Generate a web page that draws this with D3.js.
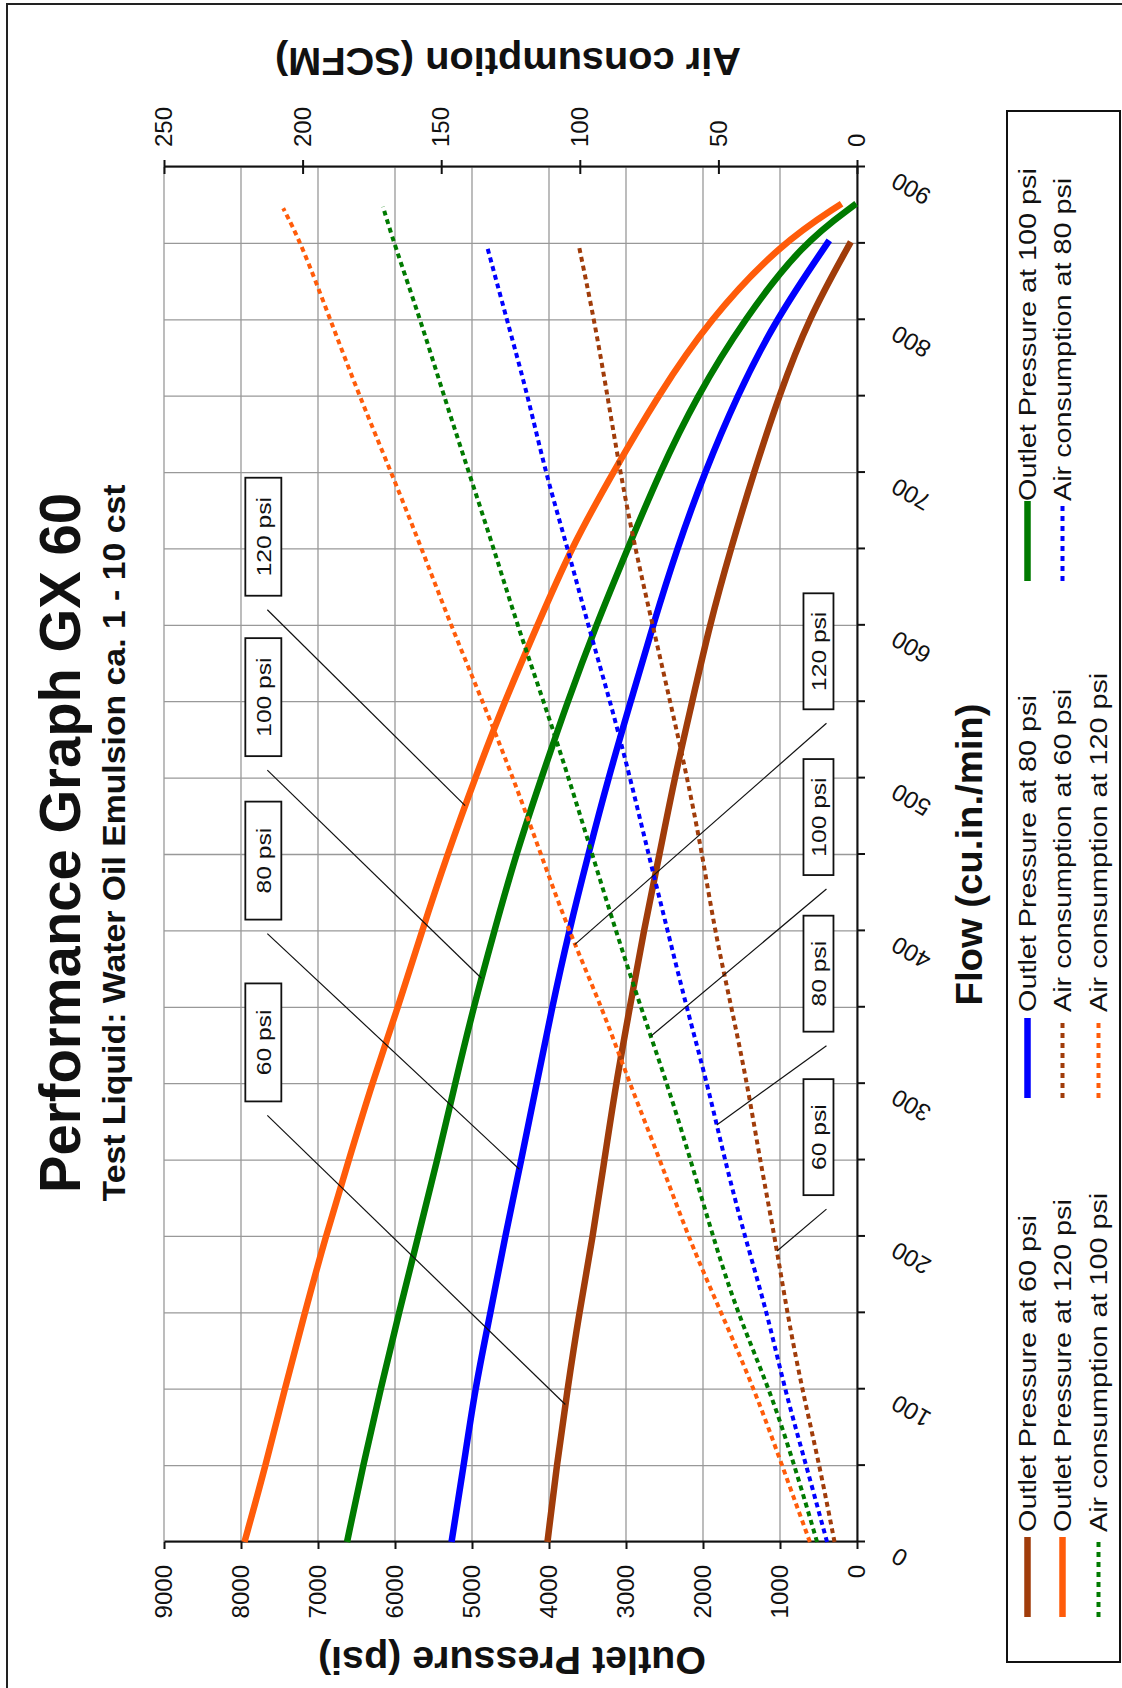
<!DOCTYPE html>
<html lang="en">
<head>
<meta charset="UTF-8">
<title>Performance Graph GX 60</title>
<script src="https://d3js.org/d3.v7.min.js"></script>
<style>
  body { margin: 0; background: #fff; }
  svg { display: block; font-family: "Liberation Sans", Arial, sans-serif; }
</style>
</head>
<body>
<script>
// flow points (cu.in./min)
const flow60  = [0, 50, 100, 150, 200, 250, 300, 350, 400, 450, 500, 550, 600, 650, 700, 750, 800, 851];
const flow80  = [0, 50, 100, 150, 200, 250, 300, 350, 400, 450, 500, 550, 600, 650, 700, 750, 800, 852];
const flow100 = [0, 50, 100, 150, 200, 250, 300, 350, 400, 450, 500, 550, 600, 650, 700, 750, 800, 850, 876];
const flow120 = [0, 50, 100, 150, 200, 250, 300, 350, 400, 450, 500, 550, 600, 650, 700, 750, 800, 850, 876];

// outlet pressure (psi)
const press60  = [4020, 3900, 3760, 3608, 3430, 3281, 3130, 2950, 2770, 2565, 2370, 2140, 1915, 1640, 1340, 1015, 640, 80];
const press80  = [5266, 5108, 4962, 4760, 4570, 4360, 4160, 3960, 3740, 3490, 3230, 2940, 2650, 2340, 1980, 1560, 1060, 360];
const press100 = [6623, 6415, 6188, 5948, 5700, 5450, 5220, 4980, 4710, 4430, 4100, 3760, 3390, 2980, 2565, 2080, 1470, 710, 10];
const press120 = [7955, 7680, 7433, 7172, 6900, 6600, 6300, 5960, 5650, 5320, 4960, 4580, 4150, 3720, 3170, 2590, 1920, 990, 200];

// air consumption (SCFM)
const airFlow60  = [0, 50, 100, 150, 200, 250, 300, 350, 400, 450, 500, 550, 600, 650, 700, 750, 800, 849];
const airFlow80  = [0, 50, 100, 150, 200, 250, 300, 350, 400, 450, 500, 550, 600, 650, 700, 750, 800, 849];
const airFlow100 = [0, 50, 100, 150, 200, 250, 300, 350, 400, 450, 500, 550, 600, 650, 700, 750, 800, 850, 874];
const airFlow120 = [0, 50, 100, 150, 200, 250, 300, 350, 400, 450, 500, 550, 600, 650, 700, 750, 800, 850, 873];
const air60  = [8.1, 13.5, 19.8, 25.2, 29.7, 35, 39.6, 45.3, 51.3, 55.8, 61.2, 67.4, 73.7, 80, 85.4, 90, 94.8, 100.4];
const air80  = [10.8, 18.3, 26.1, 32.4, 40.5, 47.7, 54, 61.5, 68.3, 75.2, 81.8, 89, 97, 104.3, 112.4, 118.7, 126.3, 133.6];
const air100 = [14.4, 22.5, 31.5, 43.2, 52, 60, 68.5, 78, 87, 95.5, 104, 113, 122.5, 131, 140, 149, 157.5, 167, 171];
const air120 = [17, 27, 37, 49, 61, 71, 82, 92, 104, 114, 124, 135, 146.5, 157, 168, 179.5, 190, 200.5, 207];

// ticks
const flowTicks = d3.range(0, 901, 50);
const pressTicks = d3.range(0, 9001, 1000);
const airTicks = d3.range(0, 251, 50);

// callout labels: box position (flow, value) and the flow where the pointer hits the curve
const pressLabels = ["60 psi", "80 psi", "100 psi", "120 psi"];
const pressBoxFlow = [327, 446, 553, 658];
const pressTarget = [90, 244, 369, 482];
const airLabels = ["60 psi", "80 psi", "100 psi", "120 psi"];
const airBoxFlow = [265, 372, 474.5, 583];
const airTarget = [190.5, 273, 331, 391];

const series = [
  { name: "Outlet Pressure at 60 psi",  flow: flow60,  v: press60,  axis: "p", color: "#a03c0a", dotted: false },
  { name: "Outlet Pressure at 80 psi",  flow: flow80,  v: press80,  axis: "p", color: "#0000ff", dotted: false },
  { name: "Outlet Pressure at 100 psi", flow: flow100, v: press100, axis: "p", color: "#007a00", dotted: false },
  { name: "Outlet Pressure at 120 psi", flow: flow120, v: press120, axis: "p", color: "#ff5c0a", dotted: false },
  { name: "Air consumption at 60 psi",  flow: airFlow60,  v: air60,  axis: "a", color: "#a03c0a", dotted: true },
  { name: "Air consumption at 80 psi",  flow: airFlow80,  v: air80,  axis: "a", color: "#0000ff", dotted: true },
  { name: "Air consumption at 100 psi", flow: airFlow100, v: air100, axis: "a", color: "#007a00", dotted: true },
  { name: "Air consumption at 120 psi", flow: airFlow120, v: air120, axis: "a", color: "#ff5c0a", dotted: true }
];

const W = 1122, H = 1688;
const svg = d3.select("body").append("svg").attr("width", W).attr("height", H);

// outer frame (runs off the picture at right and bottom)
svg.append("rect").attr("x", 7).attr("y", 4).attr("width", 1300).attr("height", 1900)
  .attr("fill", "none").attr("stroke", "#222").attr("stroke-width", 2);

// the chart is drawn landscape and turned a quarter to the left
const g = svg.append("g").attr("transform", `translate(0,${H}) rotate(-90)`);

const x = d3.scaleLinear().domain([0, 900]).range([146, 1521]);
const yP = d3.scaleLinear().domain([0, 9000]).range([857, 164]);
const yA = d3.scaleLinear().domain([0, 250]).range([857, 164]);
const scaleOf = s => s.axis === "p" ? yP : yA;

// gridlines
g.append("g").selectAll("line").data(flowTicks).join("line")
  .attr("x1", d => x(d)).attr("x2", d => x(d))
  .attr("y1", yP(9000)).attr("y2", yP(0))
  .attr("stroke", "#999").attr("stroke-width", 1.3);
g.append("g").selectAll("line").data(pressTicks).join("line")
  .attr("x1", x(0)).attr("x2", x(900))
  .attr("y1", d => yP(d)).attr("y2", d => yP(d))
  .attr("stroke", "#999").attr("stroke-width", 1.3);

// axes
function styleAxis(sel) {
  sel.attr("font-family", "'Liberation Sans', Arial, sans-serif").attr("font-size", 24);
  sel.selectAll("path, line").attr("stroke", "#111").attr("stroke-width", 2);
  sel.selectAll("text").attr("fill", "#111");
}

const xAxis = g.append("g").attr("transform", `translate(0,${yP(0)})`)
  .call(d3.axisBottom(x).tickValues(flowTicks).tickSize(8).tickSizeOuter(0)
    .tickFormat(d => d % 100 === 0 ? d : ""))
  .call(styleAxis);
xAxis.selectAll("text")
  .attr("y", null).attr("dy", null)
  .attr("text-anchor", "end")
  .attr("transform", "translate(-5,41) rotate(-60)");

g.append("g").attr("transform", `translate(${x(0)},0)`)
  .call(d3.axisLeft(yP).tickValues(pressTicks).tickSize(7).tickPadding(16).tickSizeOuter(0)
    .tickFormat(d3.format("d")))
  .call(styleAxis);

const aAxis = g.append("g").attr("transform", `translate(${x(900)},0)`)
  .call(d3.axisRight(yA).tickValues(airTicks).tickSize(7).tickPadding(13).tickSizeOuter(0))
  .call(styleAxis);
aAxis.selectAll(".tick line").attr("x1", -7).attr("x2", 7);

// curves
const line = s => d3.line()
  .x(d => x(d[0])).y(d => scaleOf(s)(d[1]))
  .curve(d3.curveBasis)(d3.zip(s.flow, s.v));

g.append("g").selectAll("path").data(series).join("path")
  .attr("d", line)
  .attr("fill", "none")
  .attr("stroke", d => d.color)
  .attr("stroke-width", d => d.dotted ? 4 : 6.5)
  .attr("stroke-dasharray", d => d.dotted ? "5,4" : null);

// callouts
function valueAt(s, f) {
  return d3.scaleLinear().domain(s.flow).range(s.v)(f);
}

function callouts(labels, boxFlow, target, list, yScale, boxVal, w, h, off) {
  const layer = g.append("g");
  labels.forEach((lab, i) => {
    const s = list[i];
    const cx = x(boxFlow[i]), cy = yScale(boxVal);
    layer.append("line")
      .attr("x1", cx - w / 2 - 14).attr("y1", cy + off)
      .attr("x2", x(target[i])).attr("y2", yScale(valueAt(s, target[i])))
      .attr("stroke", "#111").attr("stroke-width", 1.2);
    layer.append("rect")
      .attr("x", cx - w / 2).attr("y", cy - h / 2).attr("width", w).attr("height", h)
      .attr("fill", "#fff").attr("stroke", "#111").attr("stroke-width", 1.8);
    layer.append("text")
      .attr("transform", `translate(${cx},${cy + 7.5}) scale(1.17,1)`)
      .attr("text-anchor", "middle").attr("font-size", 21).attr("fill", "#111")
      .text(lab);
  });
}
callouts(pressLabels, pressBoxFlow, pressTarget, series.slice(0, 4), yP, 7710, 118, 36, 4);
callouts(airLabels, airBoxFlow, airTarget, series.slice(4), yA, 13.9, 116, 30, 8);

// titles
function title(tx, ty, rot, size, len, txt) {
  g.append("text")
    .attr("transform", `translate(${tx},${ty}) rotate(${rot})`)
    .attr("text-anchor", "middle").attr("font-weight", "bold")
    .attr("font-size", size).attr("fill", "#111")
    .attr("textLength", len).attr("lengthAdjust", "spacingAndGlyphs")
    .text(txt);
}
title(845, 80, 0, 57, 700, "Performance Graph GX 60");
title(845, 125, 0, 32, 717, "Test Liquid: Water Oil Emulsion ca. 1 - 10 cst");
title((x(0) + x(900)) / 2, 982, 0, 37, 302, "Flow (cu.in./min)");
title(41, 512, -90, 38, 388, "Outlet Pressure (psi)");
title(1640, 508, -90, 38, 466, "Air consumption (SCFM)");

// legend
const legendOrder = [0, 1, 2, 3, 4, 5, 6, 7];
const legendBarX = [71, 590, 1107];
const legendTextX = [156, 676, 1187];
const legendRowY = [1027.5, 1062.5, 1098.5];

g.append("rect").attr("x", 26).attr("y", 1007).attr("width", 1551).attr("height", 113)
  .attr("fill", "#fff").attr("stroke", "#111").attr("stroke-width", 2);

const leg = g.append("g").selectAll("g").data(legendOrder.map(i => series[i])).join("g")
  .attr("transform", (d, i) => `translate(0,${legendRowY[Math.floor(i / 3)]})`);
leg.append("line")
  .attr("x1", (d, i) => legendBarX[i % 3]).attr("x2", (d, i) => legendBarX[i % 3] + 80)
  .attr("stroke", d => d.color)
  .attr("stroke-width", d => d.dotted ? 4 : 6.5)
  .attr("stroke-dasharray", d => d.dotted ? "5,5" : null);
leg.append("text")
  .attr("transform", (d, i) => `translate(${legendTextX[i % 3]},8) scale(1.2,1)`)
  .attr("font-size", 24).attr("fill", "#111")
  .text(d => d.name);
</script>
</body>
</html>
